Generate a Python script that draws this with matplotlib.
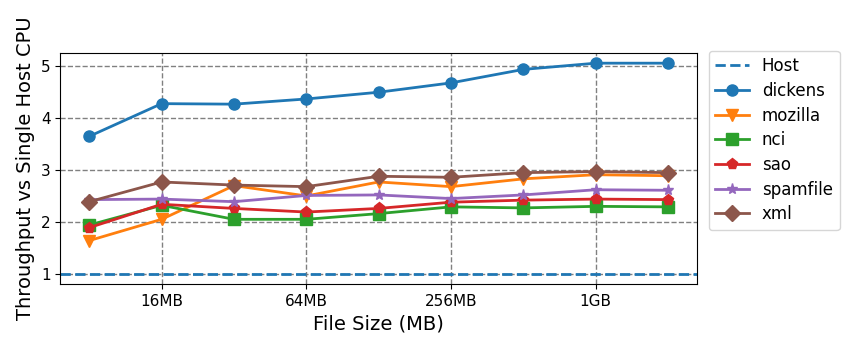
import matplotlib
matplotlib.use("Agg")
from matplotlib import pyplot as plt

# file sizes 8MB .. 2GB (log2 steps)
sizes = ["8MB", "16MB", "32MB", "64MB", "128MB", "256MB", "512MB", "1GB", "2GB"]
tick_pos = [1, 3, 5, 7]
tick_labels = ["16MB", "64MB", "256MB", "1GB"]

host = 1.0
dickens = [3.65, 4.28, 4.27, 4.37, 4.50, 4.68, 4.94, 5.06, 5.06]
mozilla = [1.64, 2.05, 2.70, 2.50, 2.77, 2.68, 2.83, 2.91, 2.89]
nci = [1.94, 2.32, 2.05, 2.05, 2.16, 2.29, 2.27, 2.30, 2.29]
sao = [1.89, 2.34, 2.26, 2.19, 2.26, 2.38, 2.42, 2.44, 2.43]
spamfile = [2.43, 2.44, 2.39, 2.51, 2.52, 2.45, 2.52, 2.62, 2.61]
xml = [2.39, 2.77, 2.71, 2.68, 2.88, 2.86, 2.95, 2.97, 2.95]

x = list(range(len(sizes)))

fig, ax = plt.subplots(figsize=(8.5, 3.51), dpi=100)
ax.axhline(host, color="tab:blue", linestyle="--", linewidth=2, label="Host")
ax.plot(x, dickens, marker="o", color="tab:blue", linewidth=2, markersize=8, label="dickens")
ax.plot(x, mozilla, marker="v", color="tab:orange", linewidth=2, markersize=8, label="mozilla")
ax.plot(x, nci, marker="s", color="tab:green", linewidth=2, markersize=8, label="nci")
ax.plot(x, sao, marker="p", color="tab:red", linewidth=2, markersize=8, label="sao")
ax.plot(x, spamfile, marker="*", color="tab:purple", linewidth=2, markersize=8, label="spamfile")
ax.plot(x, xml, marker="D", color="tab:brown", linewidth=2, markersize=8, label="xml")

ax.set_xticks(tick_pos)
ax.set_xticklabels(tick_labels, fontsize=11)
ax.set_yticks([1, 2, 3, 4, 5])
ax.tick_params(axis="y", labelsize=11)
ax.grid(True, color="gray", linestyle="--", linewidth=1)
ax.set_xlabel("File Size (MB)", fontsize=14)
ax.set_ylabel("Throughput vs Single Host CPU", fontsize=14)
ax.legend(loc="upper left", bbox_to_anchor=(1.005, 1.045), fontsize=12, labelspacing=0.4)

fig.subplots_adjust(left=0.071, right=0.82, top=0.85, bottom=0.19)
fig.savefig("out.png")
